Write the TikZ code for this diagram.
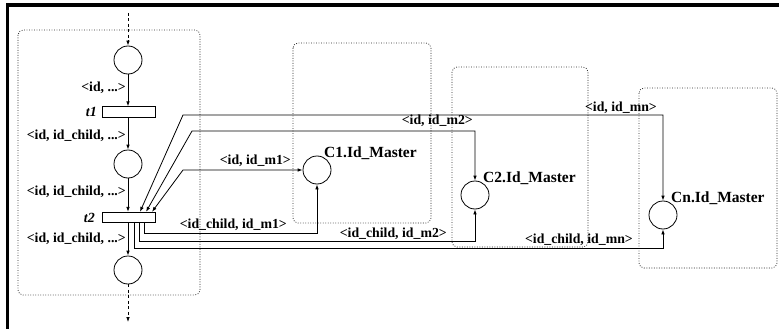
\documentclass[tikz,border=0pt]{standalone}
\usepackage{fontspec}
\setmainfont{Liberation Serif}
\usetikzlibrary{arrows.meta}
\begin{document}
\begin{tikzpicture}[x=1pt,y=-1pt,
  place/.style={draw,circle,minimum size=28pt,inner sep=0pt,line width=0.8pt},
  trans/.style={draw,rectangle,minimum width=53pt,minimum height=10.5pt,inner sep=0pt,line width=0.8pt},
  arc/.style={line width=0.8pt,-{Latex[length=5pt,width=3.6pt]}},
  arcboth/.style={line width=0.8pt,{Latex[length=5pt,width=3.6pt]}-{Latex[length=5pt,width=3.6pt]}},
  dasharc/.style={line width=0.8pt,dash pattern=on 3pt off 2.5pt,-{Latex[length=5pt,width=3.6pt]}},
  grp/.style={draw=black!85,line width=0.7pt,dash pattern=on 0.9pt off 1.6pt,rounded corners=5pt},
  lab/.style={font=\fontsize{13.8}{15}\selectfont\bfseries,inner sep=0pt},
  mlab/.style={font=\fontsize{15.5}{17}\selectfont\bfseries,inner sep=0pt},
  tlab/.style={font=\fontsize{14}{15}\selectfont\bfseries\itshape,inner sep=0pt}]
\useasboundingbox (0,0) rectangle (779,329);
% frame
\draw[line width=3.4pt,line join=miter] (779,5) -- (7.7,5) -- (7.7,329);
% group boxes
\draw[grp] (18,30) rectangle (200,295);
\draw[grp] (293,43) rectangle (431,223);
\draw[grp] (452,67) rectangle (588,247);
\draw[grp] (639,88) rectangle (777,268);
% places and transitions
\node[place] (p1) at (128,60) {};
\node[trans] (t1) at (128.5,112) {};
\node[place] (p2) at (128,164) {};
\node[trans] (t2) at (128.5,217.5) {};
\node[place] (p3) at (128,270) {};
\node[place] (c1) at (317,170) {};
\node[place] (c2) at (475,195) {};
\node[place] (cn) at (663,215) {};
% free ends
\coordinate (top) at (128,13);
\coordinate (bot) at (128,322);
% main flow
\draw[dasharc] (top) -- (p1.north);
\draw[arc] (p1.south) -- (t1.north -| p1.south);
\draw[arc] (t1.south -| p2.north) -- (p2.north);
\draw[arc] (p2.south) -- (t2.north -| p2.south);
\draw[arc] (t2.south -| p3.north) -- (p3.north);
\draw[dasharc] (p3.south) -- (bot);
% corners of the arcs
\coordinate (kn) at (183,115);
\coordinate (k2) at (192,131);
\coordinate (k1) at (183,170);
% input arcs to t2
\draw[arcboth] ([xshift=11.5pt]t2.north) -- (kn) -| (cn.north);
\draw[arcboth] ([xshift=17.5pt]t2.north) -- (k2) -| (c2.north);
\draw[arcboth] ([xshift=23.5pt]t2.north) -- (k1) -- (c1.west);
% output arcs from t2
\coordinate (b1) at (144,233);
\coordinate (b2) at (139,241);
\coordinate (bn) at (134,248);
\draw[arc] ([xshift=15.5pt]t2.south) -- (b1) -| (c1.south);
\draw[arc] ([xshift=10.5pt]t2.south) -- (b2) -| (c2.south);
\draw[arc] ([xshift=5.5pt]t2.south) -- (bn) -| (cn.south);
% labels
\node[lab,anchor=east] (l1) at (126,88) {<id, ...>};
\node[tlab,anchor=east] (lt1) at (97,112) {t1};
\node[lab,anchor=east] (l2) at (126,136) {<id, id\_child, ...>};
\node[lab,anchor=east] (l3) at (126,192) {<id, id\_child, ...>};
\node[tlab,anchor=east] (lt2) at (95,218) {t2};
\node[lab,anchor=east] (l4) at (126,239) {<id, id\_child, ...>};
\node[lab,anchor=east] (m1) at (291,161) {<id, id\_m1>};
\node[lab,anchor=east] (m2) at (473,121) {<id, id\_m2>};
\node[lab,anchor=east] (mn) at (657,108) {<id, id\_mn>};
\node[lab,anchor=east] (cm1) at (287,225) {<id\_child, id\_m1>};
\node[lab,anchor=east] (cm2) at (447,234) {<id\_child, id\_m2>};
\node[lab,anchor=east] (cmn) at (633,240) {<id\_child, id\_mn>};
\node[mlab,anchor=base west] (n1) at (324,157) {C1.Id\_Master};
\node[mlab,anchor=base west] (n2) at (483,182) {C2.Id\_Master};
\node[mlab,anchor=base west] (nn) at (671,202) {Cn.Id\_Master};
\end{tikzpicture}
\end{document}
